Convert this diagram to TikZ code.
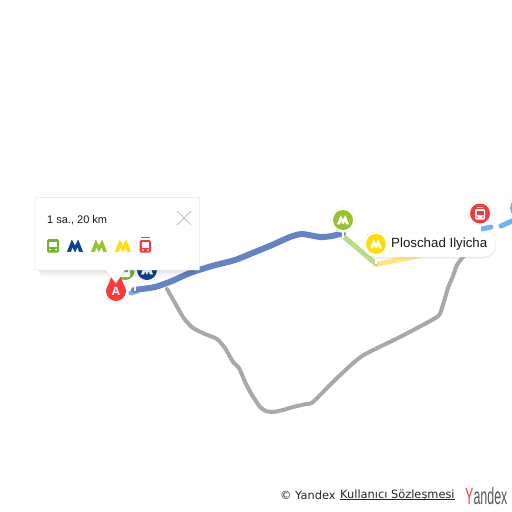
\documentclass[tikz,border=0pt]{standalone}
\usepackage{fontspec}
\setmainfont{Liberation Sans}
\newfontfamily\footfont{DejaVu Sans}
\usetikzlibrary{calc,shadows}
\definecolor{routeblue}{HTML}{6583C4}
\definecolor{walkblue}{HTML}{6DB5F2}
\definecolor{routegray}{HTML}{A8A8A8}
\definecolor{metrogreen}{HTML}{95C42E}
\definecolor{metropale}{HTML}{BBDC85}
\definecolor{metroyellow}{HTML}{FFDD00}
\definecolor{yellowpale}{HTML}{FFE67A}
\definecolor{metronavy}{HTML}{0F3F93}
\definecolor{busgreen}{HTML}{6FB52C}
\definecolor{tramred}{HTML}{F93A3D}
\tikzset{
  route/.style={line width=#1, line cap=round, line join=round},
  pinring/.style={circle, fill=white, draw=black!6, line width=0.5pt, minimum size=25pt, inner sep=0pt},
  pinhead/.style={circle, minimum size=20pt, inner sep=0pt},
}
% metro sign, centre (#2), size #3
\def\metrosign[#1](#2)(#3){\filldraw[#1, line width=0.7pt, line join=round] ($(#2)+(-1.0*#3,0.75*#3)$) -- ($(#2)+(-0.42*#3,-0.75*#3)$) -- ($(#2)+(0,0.05*#3)$) -- ($(#2)+(0.42*#3,-0.75*#3)$) -- ($(#2)+(1.0*#3,0.75*#3)$) -- ($(#2)+(0.58*#3,0.75*#3)$) -- ($(#2)+(0.36*#3,0.05*#3)$) -- ($(#2)+(0,0.75*#3)$) -- ($(#2)+(-0.36*#3,0.05*#3)$) -- ($(#2)+(-0.58*#3,0.75*#3)$) -- cycle;}
\begin{document}
\begin{tikzpicture}[x=1pt,y=-1pt]
  \useasboundingbox (0,0) rectangle (512,512);
  \fill[white] (0,0) rectangle (512,512);

  %%%%% routes %%%%%
  \draw[route=4pt, routegray] plot[smooth, tension=0.35] coordinates {(167,289) (175,303) (183,317) (187,322) (193,328) (205,334) (217,339) (225,348) (233,362) (239,368) (246,384) (252,395) (260,407) (266,411) (273,412) (283,410) (293,407) (306,404) (313,402) (337,378) (362,356) (400,337) (437,317) (442,308) (448,288) (453,276) (457,265) (463,257) (472,250)};

  \draw[route=5pt, walkblue] (131,293) -- (137,291);
  \draw[route=5pt, walkblue] (482,229) -- (491,227);
  \draw[route=5pt, walkblue] (501,226) -- (512,221);

  \fill[yellowpale] (376,262) -- (440,248) -- (440,254) -- (376,267) -- cycle;
  \draw[route=5pt, metropale] (343,236) -- (376,264);
  \draw[route=6pt, routeblue] plot[smooth, tension=0.4] coordinates {(134,290) (155,287) (172,281) (190,273) (212,266) (235,260) (255,252) (272,245) (290,237) (302,234) (320,237) (332,236) (343,233)};

  %%%%% station pins %%%%%
  \node[pinring] (pinbus) at (125,270) {};
  \node[pinhead, fill=busgreen] at (125,270) {};
  \fill[white, rounded corners=1pt] (120,265) rectangle (130,277);
  \fill[busgreen] (122,267) rectangle (128,272);
  \node[pinring] (pinnavy) at (147,270) {};
  \node[pinhead, fill=metronavy] at (147,270) {};
  \metrosign[white](147,270)(5.5);
  \draw[white, line width=1.5pt] (135,280) -- (135,291);

  \node[pinring] (pingreen) at (343,220) {};
  \node[pinhead, fill=metrogreen] at (343,220) {};
  \metrosign[white](343,220)(5.5);
  \draw[white, line width=1.5pt] (343,231) -- (343,238);

  \node[pinring] (pinblue) at (520,208) {};
  \node[pinhead, fill=walkblue] at (520,208) {};

  %%%%% station label %%%%%
  \draw[white, line width=1.5pt] (376,255) -- (376,264);
  \node[draw=black!8, fill=white, rounded corners=12.5pt, drop shadow={shadow xshift=0pt, shadow yshift=-1.5pt, opacity=0.15}, minimum width=133pt, minimum height=25pt, inner sep=0pt] (ilyicha) at (429.5,244.5) {};
  \node[anchor=west, font=\fontsize{13.3}{15}\selectfont, inner sep=0pt, text=black!90] (ilyichatext) at (391,244.5) {Ploschad Ilyicha};
  \node[circle, fill=metroyellow, minimum size=20pt, inner sep=0pt] (pinyellow) at (376,244) {};
  \metrosign[white](376,244)(5.5);

  \node[pinring] (pinred) at (480,213.5) {};
  \node[pinhead, fill=tramred] at (480,213.5) {};
  \fill[white] (477,207) rectangle (483,208);
  \fill[white, rounded corners=1pt] (475,209) rectangle (485,219.5);
  \fill[tramred] (476.5,211) rectangle (483.5,214.5);
  \fill[tramred] (477,217) circle (0.9) (483,217) circle (0.9);
  \draw[white, line width=1.5pt] (480,225) -- (480,232);

  %%%%% start pin %%%%%
  \node[pinring] (pina) at (116,291) {};
  \fill[tramred] (111,277) -- (121,277) -- (124,286) -- (108,286) -- cycle;
  \node[pinhead, fill=tramred, text=white, font=\bfseries\fontsize{12}{14}\selectfont] (pinatext) at (116,291) {A};

  %%%%% popup %%%%%
  \foreach \s in {1,...,7}
    \fill[black, opacity=0.014] (37+\s/2,200) rectangle (198-\s/2,270+\s);
  \draw[draw=black!18, fill=white] (35,197.5) -- (199.5,197.5) -- (199.5,270) -- (125,270) -- (116,283) -- (105,270) -- (35,270) -- cycle;
  \node[anchor=west, font=\fontsize{11}{13}\selectfont, inner sep=0pt, text=black!90] (duration) at (47,220.5) {1 sa., 20 km};
  \draw[black!30, line width=0.7pt] (177,211) -- (191,225) (191,211) -- (177,225);

  % bus sign
  \fill[busgreen, rounded corners=1.5pt] (47,239) rectangle (59,252.5);
  \fill[white] (49,241.5) rectangle (57,246.5);
  \fill[white] (50,249.5) circle (1) (56,249.5) circle (1);
  \metrosign[metronavy](75,246)(7.5);
  \metrosign[metrogreen](99,246)(7.5);
  \metrosign[metroyellow](123,246)(7.5);
  % tram sign
  \fill[tramred] (141,237) rectangle (150,238);
  \fill[tramred, rounded corners=1.5pt] (139.5,240) rectangle (151,252.5);
  \fill[white] (141.5,242) rectangle (149,247.5);
  \fill[white] (143,250) circle (1) (148,250) circle (1);

  %%%%% footer %%%%%
  \node[anchor=west, font=\footfont\fontsize{11.4}{13}\selectfont, inner sep=0pt, text=black!85] (copyright) at (280,495) {© Yandex};
  \node[anchor=west, font=\footfont\fontsize{11.4}{13}\selectfont, inner sep=0pt, text=black!85] (terms) at (340,495) {Kullanıcı Sözleşmesi};
  \draw[black!85, line width=0.7pt] ([yshift=-1.2pt]terms.base west) -- ([yshift=-1.2pt]terms.base east);
  \node[anchor=west, inner sep=0pt, font=\fontsize{23.5}{24}\selectfont] (logo) at (465,496) {\scalebox{0.53}[1]{\textcolor{tramred}{Y}\textcolor{black!65}{andex}}};
\end{tikzpicture}
\end{document}
